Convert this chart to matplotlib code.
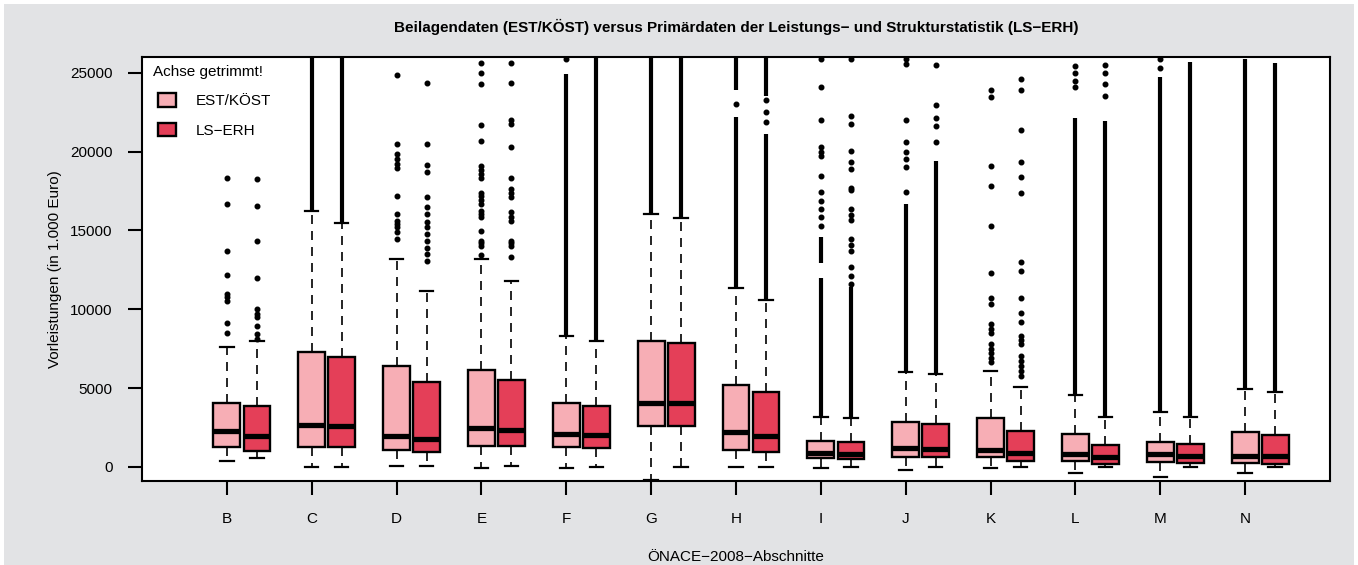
import matplotlib
matplotlib.use("Agg")
import matplotlib.pyplot as plt
from matplotlib.patches import Patch, Rectangle

plt.rcParams['font.family'] = ['Liberation Sans Narrow', 'Liberation Sans', 'DejaVu Sans']

categories = ['B', 'C', 'D', 'E', 'F', 'G', 'H', 'I', 'J', 'K', 'L', 'M', 'N']

# EST/KÖST (hell)
est_low = [381, 0, 20, -60, -85, -825, -42, -106, -212, -106, -402, -677, -400]
est_q1 = [1269, 1269, 1058, 1332, 1227, 2601, 1079, 529, 634, 592, 338, 317, 211]
est_med = [2284, 2644, 1946, 2454, 2073, 4080, 2178, 867, 1185, 1058, 803, 803, 698]
est_q3 = [4080, 7297, 6409, 6155, 4080, 7952, 5203, 1607, 2855, 3067, 2073, 1586, 2178]
est_high = [7570, 16200, 13177, 13177, 8312, 16010, 11337, 3130, 6028, 6091, 4548, 3490, 4930]
est_fliers = [
    [8460, 9094, 10533, 10743, 10955, 12180, 13664, 16690, 18337],
    [],
    [14467, 14867, 15185, 15400, 15609, 16033, 17195, 18929, 19204, 19521, 19839, 20473, 24872],
    [13430, 14020, 14180, 14340, 14975, 15820, 16030, 16243, 16670, 16900, 17150, 17400,
     18350, 18600, 18850, 19100, 20685, 21680, 24280, 24980, 25615],
    [25870],
    [],
    [23010],
    [15290, 15880, 16350, 16880, 17450, 18420, 19730, 20000, 20260, 22000, 24110, 25870],
    [17450, 19030, 19500, 19980, 20580, 22020, 25550, 25870],
    [6620, 6900, 7200, 7500, 7780, 8460, 8750, 9050, 10320, 10740, 12290, 15250, 17830,
     19080, 23440, 23900],
    [24070, 24500, 25000, 25400],
    [25300, 25900],
    [],
]
# dichte Ausreißerbereiche (von, bis)
est_dense = [
    [], [(16200, 26500)], [], [], [(8312, 24900)], [(16010, 26500)],
    [(11337, 22200), (23900, 26500)], [(3130, 12000), (12900, 14550)], [(6028, 16670)],
    [], [(4548, 22160)], [(3490, 24700)], [(4930, 25900)],
]

# LS-ERH (dunkel)
ls_low = [529, 0, 21, 21, -42, -42, -42, 0, -42, -42, -42, -42, -42]
ls_q1 = [1015, 1227, 909, 1332, 1185, 2560, 909, 486, 592, 338, 169, 211, 169]
ls_med = [1924, 2560, 1756, 2348, 2010, 4040, 1967, 803, 1120, 867, 592, 698, 698]
ls_q3 = [3827, 6937, 5350, 5520, 3870, 7847, 4778, 1544, 2707, 2284, 1396, 1438, 2030]
ls_high = [7995, 15482, 11124, 11802, 7952, 15777, 10575, 3067, 5880, 5033, 3130, 3130, 4759]
ls_fliers = [
    [8100, 8418, 8946, 9474, 9686, 10005, 11972, 14340, 16520, 18233],
    [],
    [13070, 13495, 13914, 14340, 14762, 15185, 15502, 16033, 16453, 17131, 18675, 19162,
     20473, 24365],
    [13282, 14020, 14180, 14340, 15609, 15870, 16135, 17090, 17350, 17620, 18318, 20262,
     21744, 21998, 24322, 25615],
    [],
    [],
    [21850, 22525, 23265],
    [11610, 12100, 12646, 13700, 14100, 14450, 15670, 16000, 16350, 17575, 17720, 18900,
     19370, 20050, 21740, 22270, 25870],
    [20620, 21640, 22130, 22950, 25490],
    [5775, 6100, 6400, 6700, 7043, 7785, 8050, 8312, 9156, 9790, 10680, 12436, 12963,
     17365, 18357, 19370, 21380, 23920, 24600],
    [23500, 24300, 25000, 25520],
    [],
    [],
]
ls_dense = [
    [], [(15482, 26500)], [], [], [(7952, 26500)], [(15777, 26500)],
    [(10575, 21100), (23500, 26500)], [(3067, 11400)], [(5880, 19415)],
    [], [(3130, 21950)], [(3130, 25700)], [(4759, 25650)],
]

col_est = '#f7aeb5'
col_ls = '#e43f58'
bg = '#e2e3e5'

fig = plt.figure(figsize=(13.58, 5.65), dpi=100, facecolor='white')
fig.patches.append(Rectangle((4 / 1358, 0), 1 - 8 / 1358, 1 - 4 / 565,
                             transform=fig.transFigure, facecolor=bg, edgecolor='none', zorder=-10))
ax = fig.add_axes([142 / 1358, 84 / 565, (1330 - 142) / 1358, (481 - 57) / 565])
ax.set_facecolor('white')

pos = list(range(1, len(categories) + 1))
offset = 0.354
width = 0.315


def make_stats(low, q1, med, q3, high, fliers):
    return [dict(whislo=low[i], q1=q1[i], med=med[i], q3=q3[i], whishi=high[i], fliers=fliers[i])
            for i in range(len(low))]


dash = (0, (5.4, 4.2))
for stats, dense, color, shift in [
        (make_stats(est_low, est_q1, est_med, est_q3, est_high, est_fliers), est_dense, col_est, 0.0),
        (make_stats(ls_low, ls_q1, ls_med, ls_q3, ls_high, ls_fliers), ls_dense, col_ls, offset)]:
    p = [x + shift for x in pos]
    for x, ranges in zip(p, dense):
        for a, b in ranges:
            ax.vlines(x, a, b, color='black', lw=3.0, zorder=1)
    ax.bxp(stats, positions=p, widths=width, patch_artist=True, manage_ticks=False,
           boxprops=dict(facecolor=color, edgecolor='black', linewidth=1.7),
           whiskerprops=dict(color='black', linewidth=1.2, linestyle=dash),
           capprops=dict(color='black', linewidth=1.6),
           medianprops=dict(color='black', linewidth=3.8, solid_capstyle='butt'),
           flierprops=dict(marker='o', markersize=3.3, markerfacecolor='black',
                           markeredgecolor='black', linestyle='none'),
           zorder=2)

ax.set_xlim(0, 14)
ax.set_ylim(-900, 26000)
ax.set_xticks(pos)
ax.set_xticklabels(categories)
ax.set_yticks([0, 5000, 10000, 15000, 20000, 25000])
ax.set_yticklabels(['0', '5000', '10000', '15000', '20000', '25000'])
ax.tick_params(axis='both', length=10, width=1.5, labelsize=11, color='black')
ax.tick_params(axis='x', pad=12)
ax.tick_params(axis='y', pad=11)
for s in ax.spines.values():
    s.set_linewidth(1.5)
    s.set_color('black')

ax.set_ylabel('Vorleistungen (in 1.000 Euro)', fontsize=11, labelpad=6)
fig.text((142 + 1330) / 2 / 1358, 1 - 557 / 565, 'ÖNACE−2008−Abschnitte', fontsize=11,
         ha='center', va='center')
fig.text((142 + 1330) / 2 / 1358, 1 - 27 / 565,
         'Beilagendaten (EST/KÖST) versus Primärdaten der Leistungs− und Strukturstatistik (LS−ERH)',
         fontsize=11, fontweight='bold', ha='center', va='center')

# Legende
ax.text((153 - 142) / 1188, (481 - 72) / 424, 'Achse getrimmt!', fontsize=11,
        transform=ax.transAxes, ha='left', va='center')
handles = [Patch(facecolor=col_est, edgecolor='black', linewidth=1.7, label='EST/KÖST'),
           Patch(facecolor=col_ls, edgecolor='black', linewidth=1.7, label='LS−ERH')]
ax.legend(handles=handles, loc='upper left', bbox_to_anchor=((158 - 142) / 1188, (481 - 93) / 424),
          frameon=False, fontsize=11, handlelength=1.15, handleheight=1.0,
          handletextpad=1.3, labelspacing=0.95, borderaxespad=0, borderpad=0)

fig.savefig('out.png', dpi=100, facecolor=fig.get_facecolor())
